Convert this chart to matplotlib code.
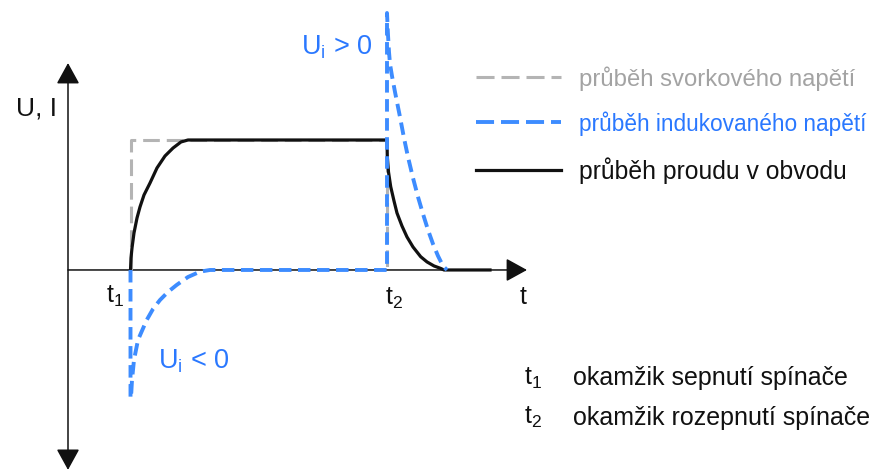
import matplotlib
matplotlib.use("Agg")
import matplotlib.pyplot as plt
from matplotlib.lines import Line2D

plt.rcParams['font.family'] = ['Liberation Sans', 'DejaVu Sans']
plt.rcParams['mathtext.fontset'] = 'custom'
plt.rcParams['mathtext.rm'] = 'Liberation Sans'
plt.rcParams['mathtext.it'] = 'Liberation Sans:italic'
plt.rcParams['lines.scale_dashes'] = False

# switching instants (arbitrary time units)
T1 = 6.25
T2 = 31.9

# terminal voltage (step between t1 and t2)
u_src_t = [T1, T1, T2, T2]
u_src_v = [0.0, 1.0, 1.0, 0.0]

# current in the circuit
i_t = [T1, 6.3, 6.4, 6.6, 6.9, 7.2, 7.6, 8.2, 8.9, 9.7, 10.5, 11.3, 12.0,
       T2, 31.93, 32.05, 32.27, 32.6, 32.9, 33.4, 33.9, 34.5, 35.27, 35.9,
       36.6, 37.27, 37.6, 42.2]
i_v = [0.0, 0.092, 0.169, 0.285, 0.4, 0.485, 0.577, 0.669, 0.785, 0.877, 0.938, 0.985, 1.0,
       1.0, 0.872, 0.754, 0.641, 0.531, 0.438, 0.338, 0.254, 0.177, 0.102, 0.062,
       0.031, 0.012, 0.0, 0.0]

# induced voltage
ui_t = [T1, T1, 6.3, 6.4, 6.6, 7.0, 7.87, 8.5, 9.2, 10.0, 10.87, 12.0, 13.2, 14.2,
        T2, T2, 32.0, 32.1, 32.2, 32.4, 32.7, 33.2, 33.6, 34.0, 34.5, 35.0,
        35.5, 36.0, 36.5, 37.0, 37.5, 37.9]
ui_v = [0.0, -0.985, -0.985, -0.846, -0.692, -0.538, -0.385, -0.3, -0.231, -0.169,
        -0.115, -0.054, -0.013, 0.0,
        0.0, 1.977, 1.808, 1.677, 1.585, 1.492, 1.369, 1.177, 1.015, 0.869, 0.708,
        0.562, 0.431, 0.308, 0.2, 0.108, 0.031, 0.0]

# axis extents
T_AXIS_END = 45.9
Y_AXIS_TOP = 1.592
Y_AXIS_BOTTOM = -1.538

GRAY = '#b4b4b4'
GRAY_TEXT = '#a3a3a3'
BLUE = '#3d8cff'
BLUE_TEXT = '#2a78ff'
BLACK = '#111111'

legend_labels = ['průběh svorkového napětí', 'průběh indukovaného napětí',
                 'průběh proudu v obvodu']
note_labels = ['okamžik sepnutí spínače', 'okamžik rozepnutí spínače']

fig = plt.figure(figsize=(8.95, 4.76), dpi=100)
ax = fig.add_axes([0, 0, 1, 1])
ax.set_xlim(-6.8, 82.7)
ax.set_ylim(-1.585, 2.077)
ax.axis('off')

# coordinate axes with arrow heads
ax.annotate('', xy=(0, Y_AXIS_TOP), xytext=(0, Y_AXIS_BOTTOM),
            arrowprops=dict(arrowstyle='<|-|>,head_length=1.0,head_width=0.55',
                            mutation_scale=13, lw=1.1, color=BLACK,
                            shrinkA=0, shrinkB=0), zorder=1)
ax.annotate('', xy=(T_AXIS_END, 0), xytext=(0, 0),
            arrowprops=dict(arrowstyle='-|>,head_length=1.0,head_width=0.55',
                            mutation_scale=13, lw=1.1, color=BLACK,
                            shrinkA=0, shrinkB=0), zorder=1)

ax.plot(u_src_t, u_src_v, color=GRAY, lw=2.2, ls=(0, (12, 5)), zorder=2)
ax.plot(i_t, i_v, color=BLACK, lw=2.3, zorder=3, solid_joinstyle='round')
ax.plot(ui_t, ui_v, color=BLUE, lw=2.8, ls=(0, (9, 4.7)), zorder=4)

fs = 18
ax.text(-3.1, 1.246, 'U, I', fontsize=19, ha='center', va='center', color=BLACK)
ax.text(45.5, -0.208, 't', fontsize=fs, ha='center', va='center', color=BLACK)
ax.text(4.7, -0.2, r'$\mathregular{t_1}$', fontsize=fs, ha='center', va='center', color=BLACK)
ax.text(32.6, -0.215, r'$\mathregular{t_2}$', fontsize=fs, ha='center', va='center', color=BLACK)
ax.text(26.9, 1.715, r'$\mathregular{U_i}$ > 0', fontsize=fs + 1.5, ha='center', va='center',
        color=BLUE_TEXT)
ax.text(12.6, -0.70, r'$\mathregular{U_i}$ < 0', fontsize=fs + 1.5, ha='center', va='center',
        color=BLUE_TEXT)

# explanation of the instants
for k, (lab, yv) in enumerate(zip(note_labels, [-0.831, -1.138])):
    ax.text(46.5, yv, r'$\mathregular{t_%d}$' % (k + 1), fontsize=fs,
            ha='center', va='center', color=BLACK)
    ax.text(50.5, yv, lab, fontsize=fs, ha='left', va='center', color=BLACK)

handles = [Line2D([], [], color=GRAY, lw=2.2, ls=(0, (13, 5))),
           Line2D([], [], color=BLUE, lw=2.8, ls=(0, (13, 5))),
           Line2D([], [], color=BLACK, lw=2.3)]
leg = ax.legend(handles, legend_labels, loc='upper left',
                bbox_to_anchor=(476 / 895, 1 - 66 / 476), bbox_transform=fig.transFigure,
                frameon=False, fontsize=17.8, handlelength=3.45, handletextpad=0.72,
                labelspacing=0.85, borderpad=0, borderaxespad=0)
for txt, col, size in zip(leg.get_texts(), [GRAY_TEXT, BLUE_TEXT, BLACK], [17.2, 16.3, 17.8]):
    txt.set_color(col)
    txt.set_fontsize(size)

fig.savefig('out.png', dpi=100)
